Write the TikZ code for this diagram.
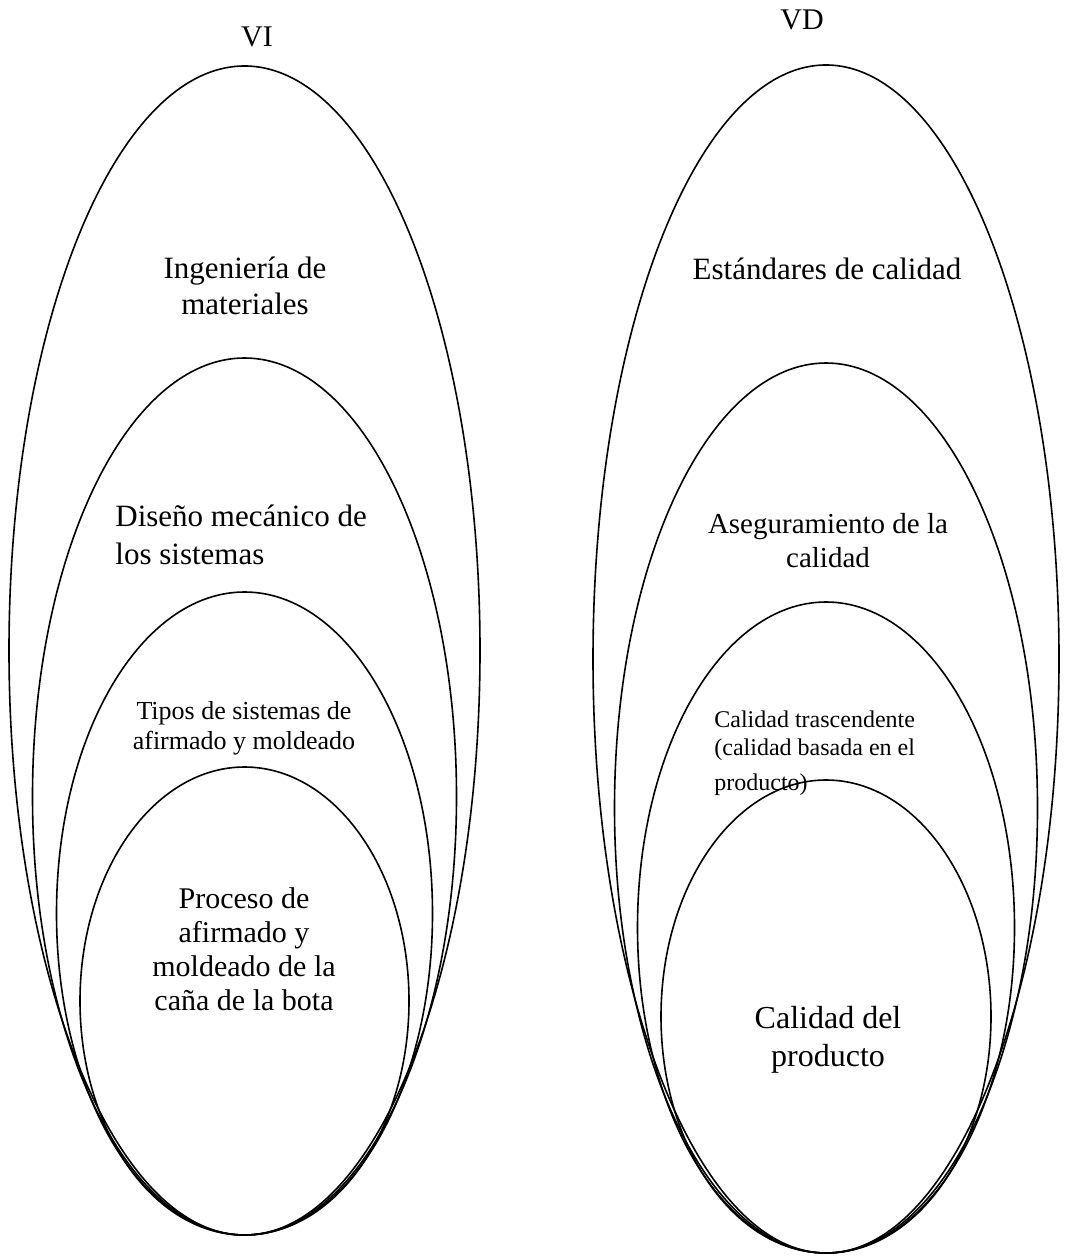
\documentclass[tikz,border=0pt]{standalone}
\usepackage{fontspec}
\setmainfont{Liberation Serif}
\usetikzlibrary{shapes.geometric}

\begin{document}
\begin{tikzpicture}[x=0.5pt, y=-0.5pt,
  ring/.style={ellipse, draw, line width=0.8pt, inner sep=0pt},
  txt/.style={inner sep=0pt, align=center}]
  \useasboundingbox (0,0) rectangle (1068,1257);
  % left group
  \node[ring, minimum width=235.5pt, minimum height=584.5pt] (vi1) at (244.5,650.5) {};
  \node[ring, minimum width=212pt, minimum height=438.5pt] (vi2) at (244.5,796.5) {};
  \node[ring, minimum width=188pt, minimum height=321.5pt] (vi3) at (244.5,913.5) {};
  \node[ring, minimum width=164.5pt, minimum height=234pt] (vi4) at (244.5,1001) {};
  \node[txt, font=\fontsize{15pt}{18pt}\selectfont] (vitit) at (257,37) {VI};
  \node[txt, font=\fontsize{15.5pt}{18pt}\selectfont] (ingmat) at (245,286) {Ingeniería de\\materiales};
  \node[txt, anchor=west, align=left, font=\fontsize{15.5pt}{19pt}\selectfont] (disen) at (115,535) {Diseño mecánico de\\los sistemas};
  \node[txt, font=\fontsize{13pt}{15pt}\selectfont] (tipos) at (244,728) {Tipos de sistemas de\\afirmado y moldeado};
  \node[txt, font=\fontsize{15pt}{17pt}\selectfont] (proc) at (244,949) {Proceso de\\afirmado y\\moldeado de la\\caña de la bota};
  % right group
  \node[ring, minimum width=233pt, minimum height=594pt] (vd1) at (826,659) {};
  \node[ring, minimum width=211.5pt, minimum height=445pt] (vd2) at (826,808) {};
  \node[ring, minimum width=188.5pt, minimum height=325.5pt] (vd3) at (826,927.5) {};
  \node[ring, minimum width=165pt, minimum height=236.5pt] (vd4) at (826,1016.5) {};
  \node[txt, font=\fontsize{15pt}{18pt}\selectfont] (vdtit) at (802,20) {VD};
  \node[txt, font=\fontsize{15.5pt}{18pt}\selectfont] (estand) at (827,269) {Estándares de calidad};
  \node[txt, font=\fontsize{14.5pt}{17pt}\selectfont] (asegur) at (828,541) {Aseguramiento de la\\calidad};
  \node[txt, anchor=west, align=left, font=\fontsize{12pt}{14pt}\selectfont] (trasc) at (714,753) {Calidad trascendente\\(calidad basada en el\\[3.5pt]producto)};
  \node[txt, font=\fontsize{16pt}{19pt}\selectfont] (calprod) at (828,1040) {Calidad del\\producto};
\end{tikzpicture}
\end{document}
